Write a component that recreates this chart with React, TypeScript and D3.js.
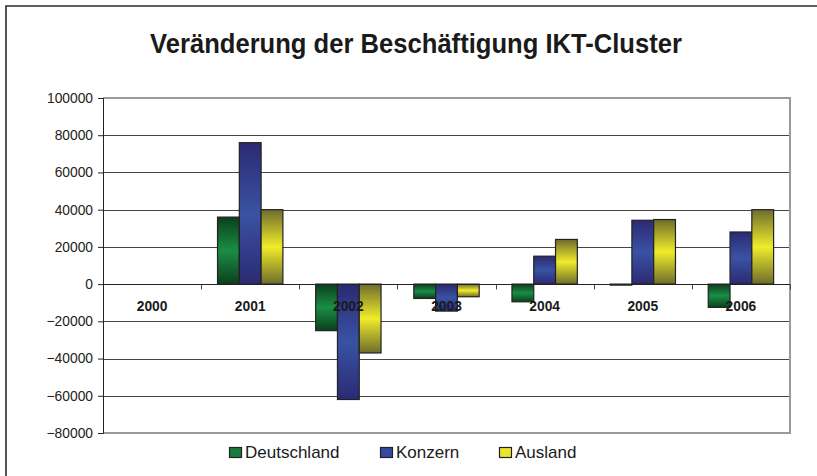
import React, { useEffect, useRef } from 'react';
import * as d3 from 'd3';

const years = ['2000', '2001', '2002', '2003', '2004', '2005', '2006'];
const deutschland = [0, 36000, -25000, -7700, -9500, -400, -12500];
const konzern = [0, 76000, -62000, -14500, 15000, 34300, 28000];
const ausland = [0, 40000, -37000, -6800, 24000, 34700, 40000];
const seriesNames = ['Deutschland', 'Konzern', 'Ausland'];
const yTicks = [100000, 80000, 60000, 40000, 20000, 0, -20000, -40000, -60000, -80000];

// gradient stops: dark edge, bright middle
const seriesColors = [
  { id: 'gDe', dark: '#0b3f1d', mid: '#1b8d45', flat: '#1a7a3c' },
  { id: 'gKo', dark: '#2b2a72', mid: '#3a52a3', flat: '#3448a0' },
  { id: 'gAu', dark: '#6e6c2c', mid: '#f0ec2a', flat: '#e8e430' },
];

const App = () => {
  const svgRef = useRef(null);

  useEffect(() => {
    // no page margin, no scrollbars
    document.body.style.margin = '0';
    document.documentElement.style.overflow = 'hidden';

    const svg = d3.select(svgRef.current);
    svg.selectAll('*').remove();

    const W = 817;
    const H = 476;
    const left = 103, right = 790, top = 98, bottom = 433;
    const font = "'Liberation Sans', Arial, sans-serif";

    svg.append('rect').attr('width', W).attr('height', H).attr('fill', '#fff');

    // outer chart border (runs off the right and bottom edge)
    svg.append('path')
      .attr('d', `M6,${H + 5} V6 H${W + 5}`)
      .attr('fill', 'none').attr('stroke', '#2a2a2a').attr('stroke-width', 1.6);

    const defs = svg.append('defs');
    seriesColors.forEach(c => {
      const g = defs.append('linearGradient')
        .attr('id', c.id).attr('x1', 0).attr('y1', 0).attr('x2', 0).attr('y2', 1);
      g.append('stop').attr('offset', '0%').attr('stop-color', c.dark);
      g.append('stop').attr('offset', '50%').attr('stop-color', c.mid);
      g.append('stop').attr('offset', '100%').attr('stop-color', c.dark);
    });

    // title (slightly tall letters in the original)
    svg.append('text')
      .attr('transform', 'translate(416,53) scale(1,1.1)')
      .attr('text-anchor', 'middle')
      .attr('font-family', font).attr('font-weight', 'bold').attr('font-size', 25.6)
      .attr('fill', '#1a1a1a')
      .text('Veränderung der Beschäftigung IKT-Cluster');

    const y = d3.scaleLinear().domain([-80000, 100000]).range([bottom, top]);
    const x0 = d3.scaleBand().domain(years).range([left, right]).paddingInner(0).paddingOuter(0);
    const x1 = d3.scaleBand().domain(seriesNames)
      .range([x0.bandwidth() * 0.167, x0.bandwidth() * 0.833]);

    // gridlines
    svg.append('g').selectAll('line')
      .data(yTicks.filter(t => t !== 100000 && t !== -80000))
      .enter().append('line')
      .attr('x1', left).attr('x2', right)
      .attr('y1', d => Math.round(y(d)) + 0.5).attr('y2', d => Math.round(y(d)) + 0.5)
      .attr('stroke', '#444').attr('stroke-width', 1);

    // plot area border (top, right, bottom)
    svg.append('path')
      .attr('d', `M${left},${top} H${right} V${bottom} H${left}`)
      .attr('fill', 'none').attr('stroke', '#9a9a9a').attr('stroke-width', 2);

    // y axis
    const yAxis = svg.append('g').attr('transform', `translate(${left},0)`)
      .call(d3.axisLeft(y).tickValues(yTicks).tickSize(5).tickPadding(5).tickFormat(d3.format('d')));
    yAxis.select('.domain').attr('stroke', '#222');
    yAxis.selectAll('.tick line').attr('stroke', '#222');
    yAxis.selectAll('text')
      .attr('font-family', font).attr('font-size', 13.8).attr('fill', '#222');

    // bars
    const data = [deutschland, konzern, ausland];
    years.forEach((yr, i) => {
      const g = svg.append('g').attr('transform', `translate(${x0(yr)},0)`);
      data.forEach((s, k) => {
        const v = s[i];
        if (v === 0) return;
        const y0 = y(Math.max(0, v));
        const h = Math.max(1, Math.abs(y(v) - y(0)));
        g.append('rect')
          .attr('x', x1(seriesNames[k]))
          .attr('y', y0)
          .attr('width', x1.bandwidth())
          .attr('height', h)
          .attr('fill', `url(#${seriesColors[k].id})`)
          .attr('stroke', '#222').attr('stroke-width', 1.2);
      });
    });

    // x axis at zero
    const zeroY = Math.round(y(0)) + 0.5;
    svg.append('line')
      .attr('x1', left).attr('x2', right).attr('y1', zeroY).attr('y2', zeroY)
      .attr('stroke', '#222');
    svg.append('g').selectAll('line')
      .data(years.slice(1).concat(['end']))
      .enter().append('line')
      .attr('x1', (d, i) => Math.round(left + x0.bandwidth() * (i + 1)) + 0.5)
      .attr('x2', (d, i) => Math.round(left + x0.bandwidth() * (i + 1)) + 0.5)
      .attr('y1', zeroY).attr('y2', zeroY + 5)
      .attr('stroke', '#444');

    svg.append('g').selectAll('text')
      .data(years).enter().append('text')
      .attr('x', d => x0(d) + x0.bandwidth() / 2)
      .attr('y', zeroY + 26)
      .attr('text-anchor', 'middle')
      .attr('font-family', font).attr('font-weight', 'bold').attr('font-size', 13.8)
      .attr('fill', '#1a1a1a')
      .text(d => d);

    // legend
    const legendX = [229, 380, 499];
    seriesNames.forEach((name, k) => {
      svg.append('rect')
        .attr('x', legendX[k] + 0.5).attr('y', 447.5)
        .attr('width', 12).attr('height', 10)
        .attr('fill', seriesColors[k].flat)
        .attr('stroke', '#222').attr('stroke-width', 1.2);
      svg.append('text')
        .attr('x', legendX[k] + 16).attr('y', 458)
        .attr('font-family', font).attr('font-size', 17)
        .attr('fill', '#1a1a1a')
        .text(name);
    });
  }, []);

  return (
    <svg
      ref={svgRef}
      width={817}
      height={476}
      style={{ display: 'block', position: 'absolute', left: 0, top: 0 }}
    />
  );
};

export default App;
